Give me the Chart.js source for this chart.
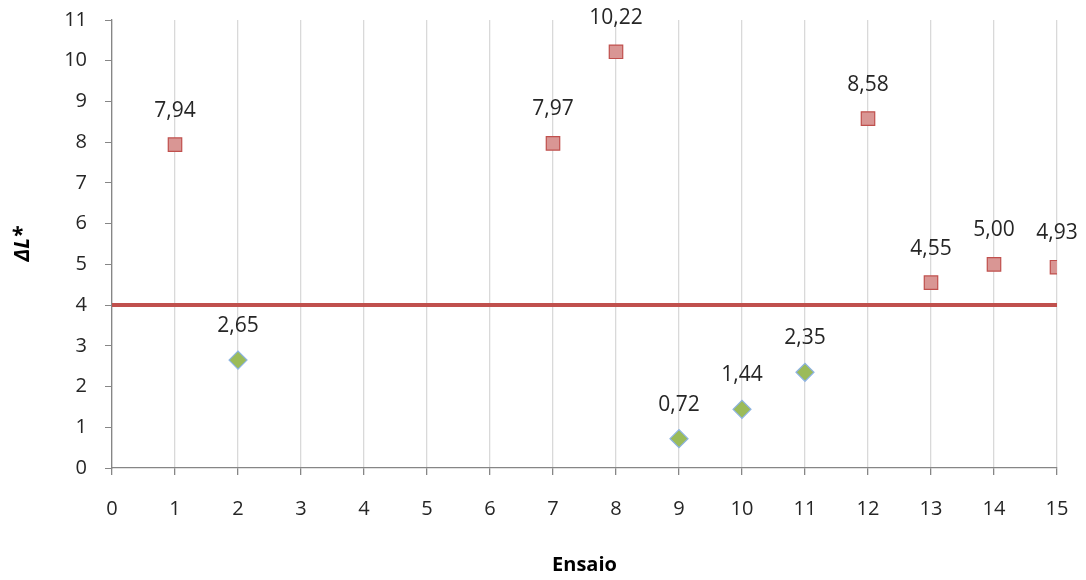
<!DOCTYPE html>
<html>
<head>
<meta charset="utf-8">
<script src="https://cdn.jsdelivr.net/npm/chart.js@4/dist/chart.umd.min.js"></script>
<style>
  html, body { margin: 0; padding: 0; background: #fff; }
  #wrap { width: 1086px; height: 580px; }
</style>
</head>
<body>
<div id="wrap"><canvas id="grafico"></canvas></div>
<script>
// ensaios acima do limite
const ensaiosAcima = [1, 7, 8, 12, 13, 14, 15];
const valoresAcima = [7.94, 7.97, 10.22, 8.58, 4.55, 5.00, 4.93];
// ensaios abaixo do limite
const ensaiosAbaixo = [2, 9, 10, 11];
const valoresAbaixo = [2.65, 0.72, 1.44, 2.35];
// linha de referencia
const limiteX = [0, 15];
const limiteY = [4, 4];

const fonte = "'Open Sans', 'Noto Sans', sans-serif";

const pontos = (xs, ys) => xs.map((x, i) => ({x: x, y: ys[i]}));

const rotulosDados = {
    id: 'rotulosDados',
    afterDatasetsDraw(chart) {
        const ctx = chart.ctx;
        ctx.save();
        ctx.font = '21px ' + fonte;
        ctx.fillStyle = '#262626';
        ctx.textAlign = 'center';
        ctx.textBaseline = 'middle';
        [0, 1].forEach(i => {
            const meta = chart.getDatasetMeta(i);
            meta.data.forEach((p, j) => {
                const v = chart.data.datasets[i].data[j].y;
                ctx.fillText(v.toFixed(2).replace('.', ','), p.x, p.y - 34);
            });
        });
        ctx.restore();
    }
};

new Chart(document.getElementById('grafico'), {
    type: 'scatter',
    data: {
        datasets: [{
            data: pontos(ensaiosAcima, valoresAcima),
            pointStyle: 'rect',
            pointRadius: 9.5,
            pointHoverRadius: 9.5,
            backgroundColor: '#d99694',
            borderColor: '#c0504d',
            borderWidth: 1.2
        }, {
            data: pontos(ensaiosAbaixo, valoresAbaixo),
            pointStyle: 'rectRot',
            pointRadius: 9,
            pointHoverRadius: 9,
            backgroundColor: '#9bbb59',
            borderColor: '#8db3e2',
            borderWidth: 1.2
        }, {
            type: 'line',
            data: pontos(limiteX, limiteY),
            borderColor: '#c0504d',
            borderWidth: 4,
            pointRadius: 0,
            fill: false
        }]
    },
    options: {
        responsive: true,
        maintainAspectRatio: false,
        animation: false,
        events: [],
        layout: {padding: {top: 20, right: 29, left: 0, bottom: 0}},
        plugins: {legend: {display: false}, tooltip: {enabled: false}},
        scales: {
            x: {
                type: 'linear',
                min: 0,
                max: 15,
                afterFit: s => { s.height = 112; s.paddingLeft = 0; s.paddingRight = 0; },
                ticks: {stepSize: 1, color: '#262626', padding: 22, font: {family: fonte, size: 20}},
                grid: {color: '#d9d9d9', tickColor: '#868686', tickLength: 7, lineWidth: 1.3},
                border: {color: '#868686', width: 1.3},
                title: {display: true, text: 'Ensaio', color: '#000', font: {family: fonte, size: 20, weight: 'bold'}, padding: {top: 0, bottom: 3}}
            },
            y: {
                min: 0,
                max: 11,
                afterFit: s => { s.width = 112; s.paddingTop = 0; s.paddingBottom = 0; },
                ticks: {stepSize: 1, color: '#262626', padding: 18, font: {family: fonte, size: 20}},
                grid: {drawOnChartArea: false, tickColor: '#868686', tickLength: 7},
                border: {color: '#868686', width: 1.3},
                title: {display: true, text: 'ΔL*', color: '#000', font: {family: fonte, size: 21, weight: 'bold', style: 'italic'}, padding: {top: 10, bottom: 0}}
            }
        }
    },
    plugins: [rotulosDados]
});
</script>
</body>
</html>
